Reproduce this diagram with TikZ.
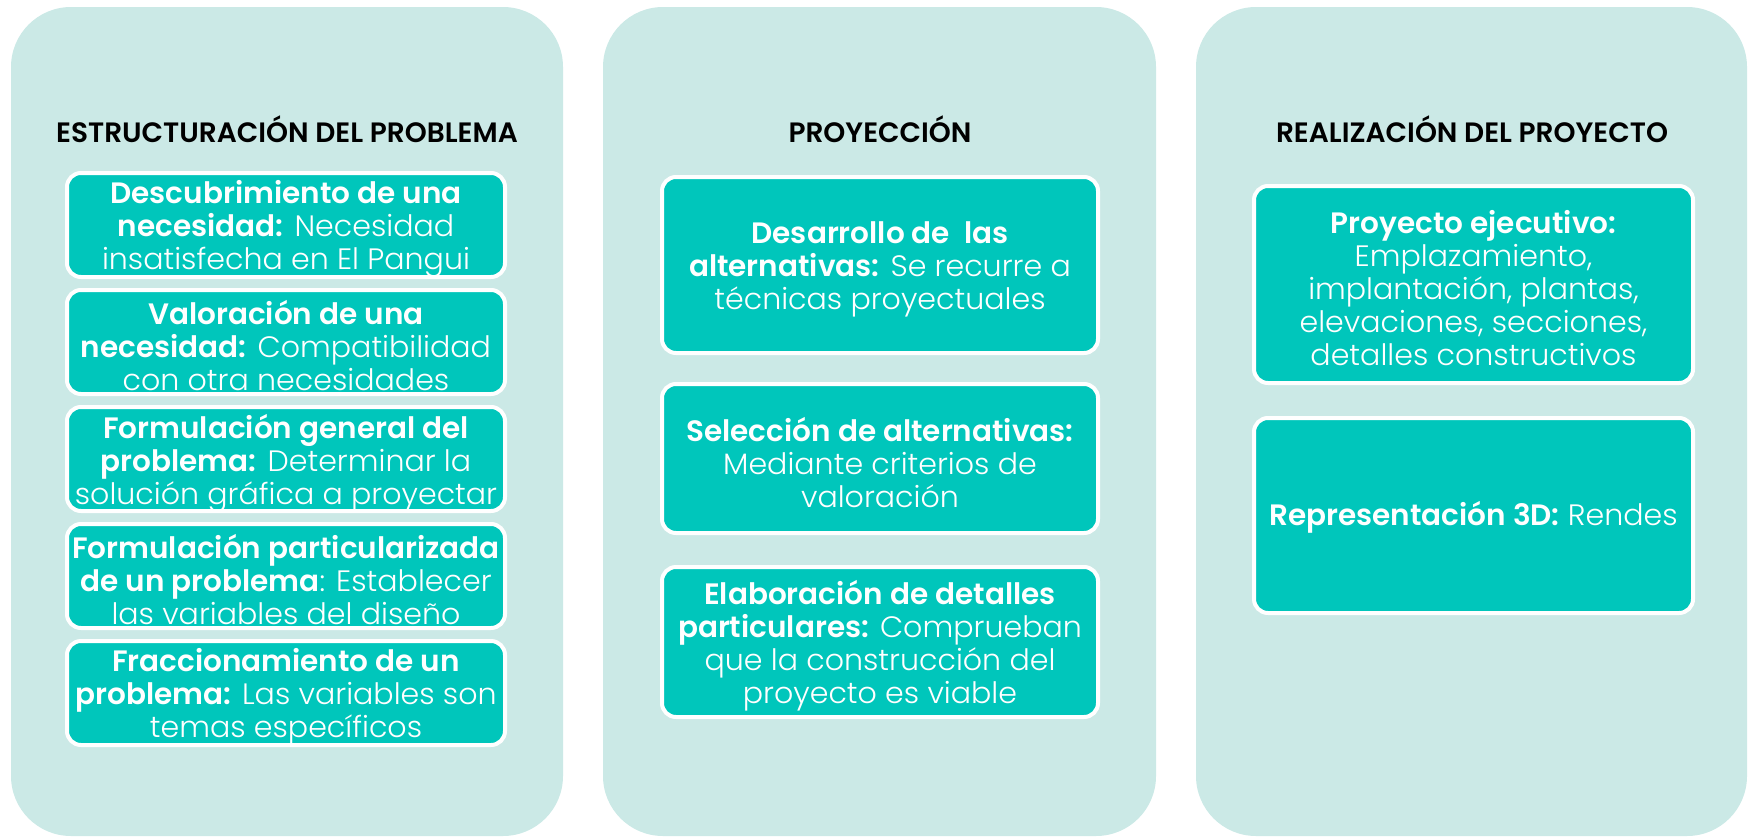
\documentclass[tikz,border=0pt]{standalone}
\usepackage{fontspec}
\setmainfont{Poppins}[UprightFont=* Light, BoldFont=* SemiBold, UprightFeatures={FakeStretch=1.02}]
\definecolor{panelc}{HTML}{CBE9E6}
\definecolor{boxc}{HTML}{00C6BB}
\begin{document}
\begin{tikzpicture}[x=1pt,y=-1pt,
  panel/.style={fill=panelc, rounded corners=60pt},
  stepbox/.style={draw=white, line width=4pt, fill=boxc, rounded corners=14pt, inner sep=0pt},
  boxtext/.style={text=white, align=center, font=\fontsize{29.5}{33}\selectfont, inner sep=0pt},
  title/.style={font=\fontsize{28}{30}\selectfont\bfseries, text=black, inner sep=0pt}]
\useasboundingbox (0,0) rectangle (1748,838);
% panels
\fill[panel] (11,7) rectangle (563,836);
\fill[panel] (603,7) rectangle (1156,836);
\fill[panel] (1196,7) rectangle (1747,836);
% titles
\node[title] (t1) at (287,129) {ESTRUCTURACIÓN DEL PROBLEMA};
\node[title] (t2) at (880,129) {PROYECCIÓN};
\node[title] (t3) at (1472,129) {REALIZACIÓN DEL PROYECTO};
% left column
\node[stepbox, minimum width=438pt, minimum height=104pt] (b1) at (286,225) {};
\node[boxtext] (b1t) at ([yshift=-4pt]b1.center)
  {\textbf{Descubrimiento de una}\\\textbf{necesidad:} Necesidad\\insatisfecha en El Pangui};
\node[stepbox, minimum width=438pt, minimum height=104pt] (b2) at (286,342) {};
\node[boxtext] (b2t) at ([yshift=-4pt]b2.center)
  {\textbf{Valoración de una}\\\textbf{necesidad:} Compatibilidad\\con otra necesidades};
\node[stepbox, minimum width=438pt, minimum height=104pt] (b3) at (286,459) {};
\node[boxtext] (b3t) at ([yshift=-4pt]b3.center)
  {\textbf{Formulación general del}\\\textbf{problema:} Determinar la\\solución gráfica a proyectar};
\node[stepbox, minimum width=438pt, minimum height=104pt] (b4) at (286,576) {};
\node[boxtext] (b4t) at ([yshift=-4pt]b4.center)
  {\textbf{Formulación particularizada}\\\textbf{de un problema}: Establecer\\las variables del diseño};
\node[stepbox, minimum width=438pt, minimum height=104pt] (b5) at (286,693) {};
\node[boxtext] (b5t) at ([yshift=-4pt]b5.center)
  {\textbf{Fraccionamiento de un}\\\textbf{problema:} Las variables son\\temas específicos};
% middle column
\node[stepbox, minimum width=436pt, minimum height=176pt] (m1) at (880,265) {};
\node[boxtext] (m1t) at ([yshift=-4pt]m1.center)
  {\textbf{Desarrollo de\ \ las}\\\textbf{alternativas:} Se recurre a\\técnicas proyectuales};
\node[stepbox, minimum width=436pt, minimum height=149pt] (m2) at (880,458.5) {};
\node[boxtext] (m2t) at ([yshift=-4pt]m2.center)
  {\textbf{Selección de alternativas:}\\Mediante criterios de\\valoración};
\node[stepbox, minimum width=436pt, minimum height=150pt] (m3) at (880,642) {};
\node[boxtext] (m3t) at ([yshift=-4pt]m3.center)
  {\textbf{Elaboración de detalles}\\\textbf{particulares:} Comprueban\\que la construcción del\\proyecto es viable};
% right column
\node[stepbox, minimum width=439pt, minimum height=197pt] (r1) at (1473.5,284.5) {};
\node[boxtext] (r1t) at ([yshift=-4pt]r1.center)
  {\textbf{Proyecto ejecutivo:}\\Emplazamiento,\\implantación, plantas,\\elevaciones, secciones,\\detalles constructivos};
\node[stepbox, minimum width=439pt, minimum height=195pt] (r2) at (1473.5,515.5) {};
\node[boxtext] (r2t) at ([yshift=-2pt]r2.center)
  {\textbf{Representación 3D:} Rendes};
\end{tikzpicture}
\end{document}
